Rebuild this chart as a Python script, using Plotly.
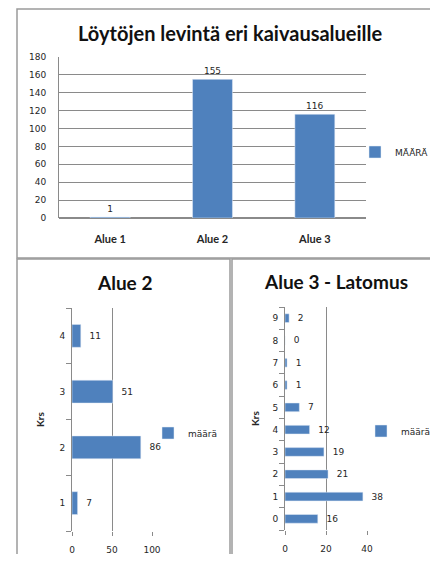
import plotly.graph_objects as go

# data
alueet = ['Alue 1', 'Alue 2', 'Alue 3']
maara = [1, 155, 116]

alue2_krs = ['1', '2', '3', '4']
alue2_maara = [7, 86, 51, 11]

alue3_krs = ['0', '1', '2', '3', '4', '5', '6', '7', '8', '9']
alue3_maara = [16, 38, 21, 19, 12, 7, 1, 1, 0, 2]

# page body keeps its 8px margin, so the figure is sized to fit the window
OFF = 8
W, H = 438 - 2 * OFF, 562 - 2 * OFF
BLUE = '#4F81BD'
GRID = '#8a8a8a'
TXT = '#262626'
TICKFONT = dict(family='DejaVu Sans', size=9, color=TXT)


def px(x):
    return (x - OFF) / W


def py(y):
    return 1 - (y - OFF) / H


fig = go.Figure()

fig.add_trace(go.Bar(x=alueet, y=maara, name='MÄÄRÄ', marker_color=BLUE, width=0.39,
                     text=maara, textposition='outside', cliponaxis=False, constraintext='none',
                     textfont=TICKFONT, xaxis='x', yaxis='y', legend='legend'))
fig.add_trace(go.Bar(x=alue2_maara, y=alue2_krs, orientation='h', name='määrä',
                     marker_color=BLUE, width=0.41,
                     text=alue2_maara, texttemplate='\u00a0\u00a0%{x}', textposition='outside',
                     cliponaxis=False, constraintext='none', textfont=TICKFONT,
                     xaxis='x2', yaxis='y2', legend='legend2'))
fig.add_trace(go.Bar(x=alue3_maara, y=alue3_krs, orientation='h', name='määrä',
                     marker_color=BLUE, width=0.39,
                     text=alue3_maara, texttemplate='\u00a0\u00a0%{x}', textposition='outside',
                     cliponaxis=False, constraintext='none', textfont=TICKFONT,
                     xaxis='x3', yaxis='y3', legend='legend3'))

legend_common = dict(font=dict(family='DejaVu Sans', size=9, color=TXT), bgcolor='rgba(0,0,0,0)',
                     xanchor='left', yanchor='middle', itemwidth=30)

fig.update_layout(
    width=W, height=H,
    margin=dict(l=0, r=0, t=0, b=0, autoexpand=False),
    paper_bgcolor='white', plot_bgcolor='white',
    showlegend=True,
    legend=dict(x=px(355), y=py(152), **legend_common),
    legend2=dict(x=px(148), y=py(433), **legend_common),
    legend3=dict(x=px(361), y=py(431), **legend_common),
    # top chart
    xaxis=dict(domain=[px(59), px(366)], anchor='y', showgrid=False, showline=False,
               ticks='', tickfont=dict(family='Lato', size=11, color=TXT, weight='bold'),
               ticklabelstandoff=13),
    yaxis=dict(domain=[py(218), py(57)], anchor='x', range=[0, 180], dtick=20,
               showgrid=True, gridcolor=GRID, gridwidth=1, showline=True, linecolor=GRID,
               zeroline=True, zerolinecolor=GRID, ticks='', tickfont=TICKFONT,
               ticklabelstandoff=10),
    # Alue 2
    xaxis2=dict(domain=[px(72), px(152)], anchor='y2', range=[0, 100], dtick=50,
                showgrid=True, gridcolor=GRID, showline=False, zeroline=False,
                ticks='outside', ticklen=4, tickcolor=GRID, tickfont=TICKFONT,
                ticklabelstandoff=6),
    yaxis2=dict(domain=[py(531), py(308)], anchor='x2', showline=True, linecolor=GRID,
                ticks='outside', tickson='boundaries', ticklen=5, tickcolor=GRID,
                tickfont=TICKFONT, ticklabelstandoff=4,
                title=dict(text='<b>Krs</b>', font=dict(family='Lato', size=10, color=TXT),
                           standoff=12)),
    # Alue 3
    xaxis3=dict(domain=[px(285), px(367)], anchor='y3', range=[0, 40], dtick=20,
                showgrid=True, gridcolor=GRID, showline=False, zeroline=False,
                ticks='outside', ticklen=4, tickcolor=GRID, tickfont=TICKFONT,
                ticklabelstandoff=6),
    yaxis3=dict(domain=[py(530), py(307)], anchor='x3', showline=True, linecolor=GRID,
                ticks='outside', tickson='boundaries', ticklen=5, tickcolor=GRID,
                tickfont=TICKFONT, ticklabelstandoff=4,
                title=dict(text='<b>Krs</b>', font=dict(family='Lato', size=10, color=TXT),
                           standoff=10)),
)

titles = [
    ('Löytöjen levintä eri kaivausalueille', 230, 33, 20),
    ('Alue 2', 124, 282, 19),
    ('Alue 3 - Latomus', 336, 281, 19),
]
for t, x, y, s in titles:
    fig.add_annotation(text='<b>' + t + '</b>', x=px(x), y=py(y), xref='paper', yref='paper',
                       showarrow=False, xanchor='center', yanchor='middle',
                       font=dict(family='Lato', size=s, color='#111111'))

# chart frames
for x0, y0, x1, y1 in [(17, 9, 445, 258), (17, 259, 230, 575), (232, 259, 445, 575)]:
    fig.add_shape(type='rect', xref='paper', yref='paper',
                  x0=px(x0), x1=px(x1), y0=py(y1), y1=py(y0),
                  line=dict(color='#9a9a9a', width=1.5), fillcolor='rgba(0,0,0,0)')

fig.write_html("out.html")
